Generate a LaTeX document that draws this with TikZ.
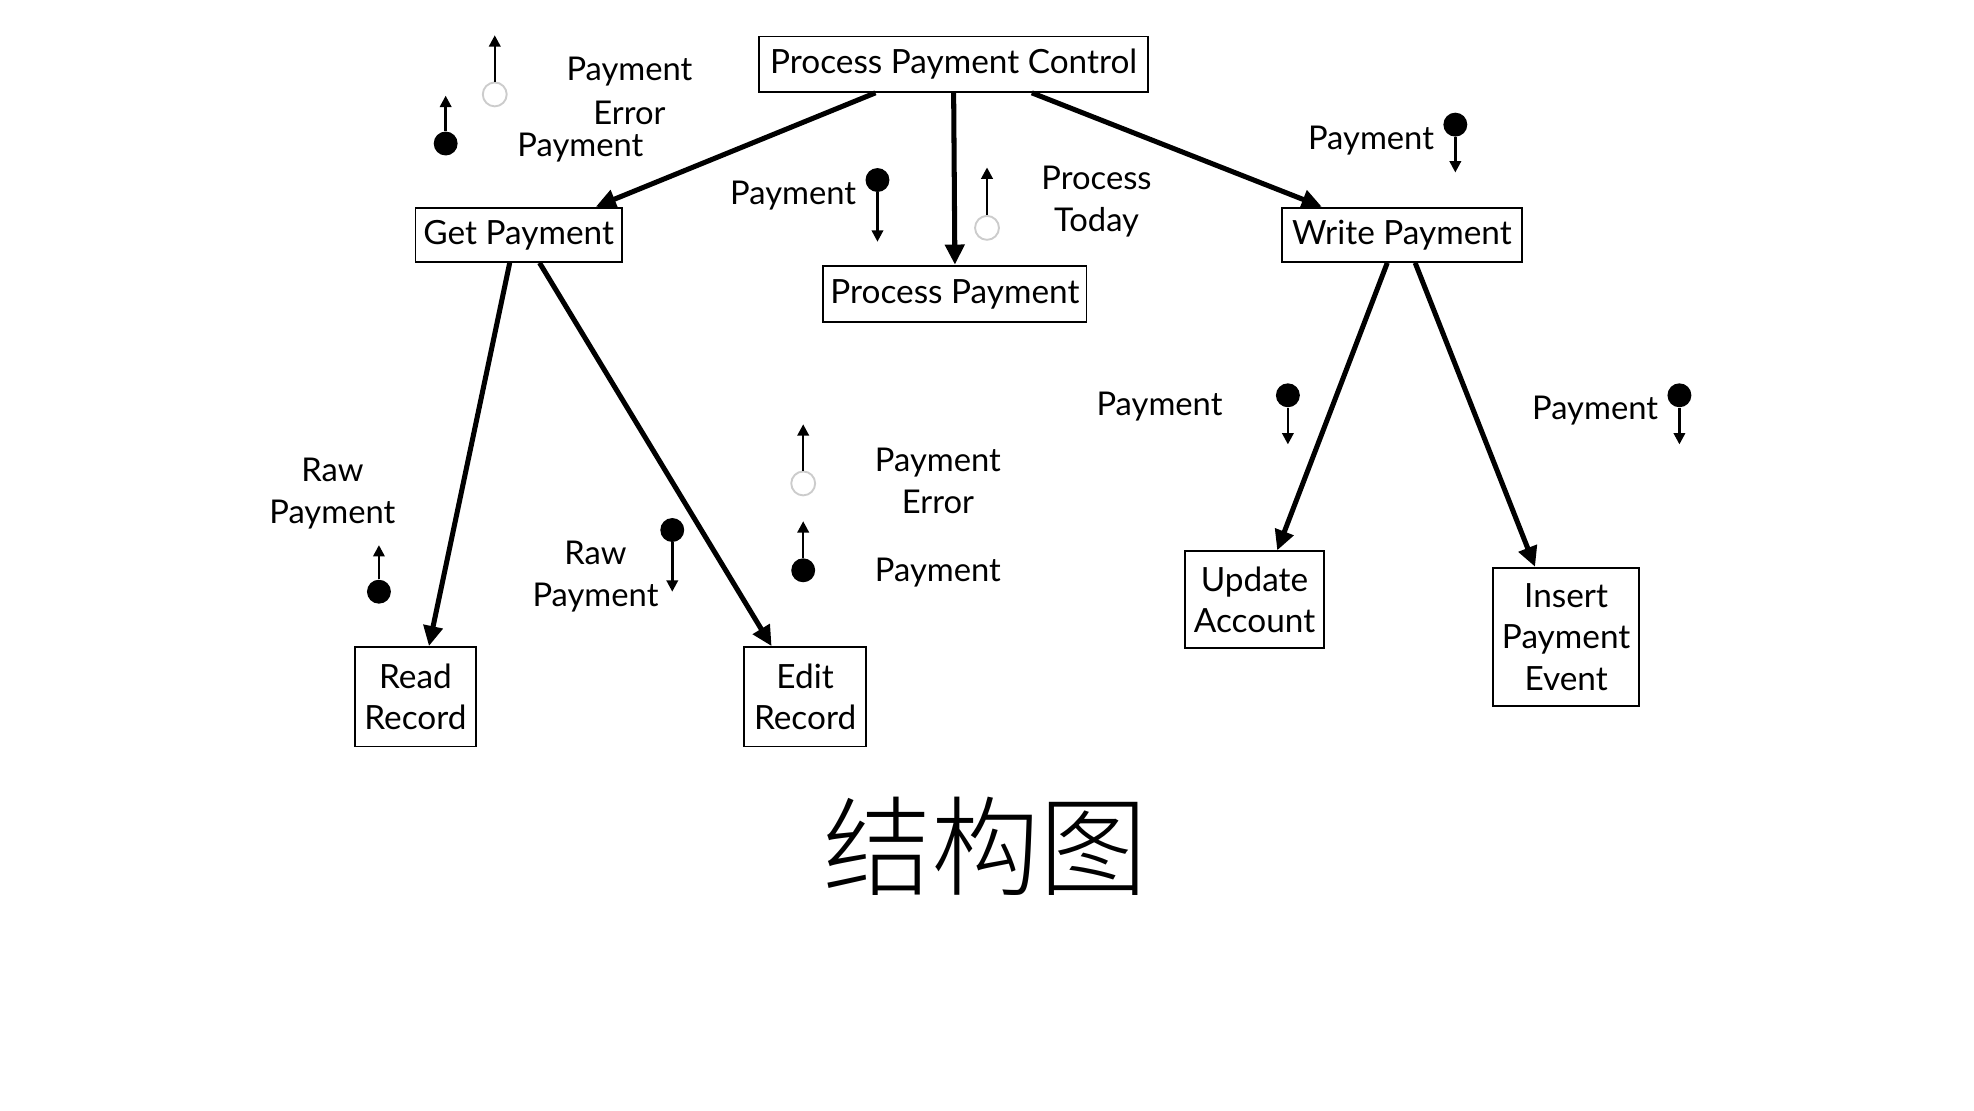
\documentclass[tikz,border=0pt]{standalone}
\usepackage{fontspec}
\setmainfont{Lato}
\newfontfamily\cjk{Noto Sans CJK SC}[UprightFont={* Light}]
\usetikzlibrary{arrows.meta,calc}
\begin{document}
\begin{tikzpicture}[x=1pt,y=-1pt,
  box/.style={draw,line width=1.5pt,inner sep=0pt,align=center,font=\fontsize{26.5}{33}\selectfont},
  lbl/.style={inner sep=0pt,align=center,yshift=-2pt,font=\fontsize{26}{33}\selectfont},
  flow/.style={line width=4pt,-{Triangle[length=16pt,width=15pt]}},
  couple/.style={line width=2pt,-{Triangle[length=9pt,width=9pt]}},
  dotc/.style={circle,fill=black,minimum size=19pt,inner sep=0pt},
  ctlc/.style={circle,draw=black!20,line width=1.5pt,fill=white,minimum size=19pt,inner sep=0pt}]
\useasboundingbox (0,0) rectangle (1568,882);
% modules
\node[box,minimum width=309pt,minimum height=44pt] (ppc) at (757.5,51) {Process Payment Control};
\node[box,minimum width=164pt,minimum height=43pt] (gp) at (412,186.5) {Get Payment};
\node[box,minimum width=209pt,minimum height=45pt] (pp) at (758.5,233.5) {Process Payment};
\node[box,minimum width=191pt,minimum height=43pt] (wp) at (1113.5,186.5) {Write Payment};
\node[box,minimum width=96pt,minimum height=79pt] (rr) at (330,553.5) {Read\\Record};
\node[box,minimum width=97pt,minimum height=79pt] (er) at (639.5,553.5) {Edit\\Record};
\node[box,minimum width=111pt,minimum height=77pt] (ua) at (996.5,476.5) {Update\\Account};
\node[box,minimum width=116pt,minimum height=110pt] (ipe) at (1244,506) {Insert\\Payment\\Event};
% calls
\draw[flow] ($(ppc.south west)!0.30!(ppc.south east)$) -- ($(gp.north west)!0.87!(gp.north east)$);
\draw[flow] (ppc.south) -- (pp.north);
\draw[flow] ($(ppc.south west)!0.70!(ppc.south east)$) -- ($(wp.north west)!0.17!(wp.north east)$);
\draw[flow] ($(gp.south west)!0.457!(gp.south east)$) -- ($(rr.north west)!0.61!(rr.north east)$);
\draw[flow] ($(gp.south west)!0.60!(gp.south east)$) -- ($(er.north west)!0.23!(er.north east)$);
\draw[flow] ($(wp.south west)!0.44!(wp.south east)$) -- ($(ua.north west)!0.66!(ua.north east)$);
\draw[flow] ($(wp.south west)!0.555!(wp.south east)$) -- ($(ipe.north west)!0.29!(ipe.north east)$);
% labels
\node[lbl] (l1a) at (500,55) {Payment};
\node[lbl] (l1b) at (500,88) {Error};
\node[lbl] (l1c) at (461,115) {Payment};
\node[lbl] (l2) at (630,153) {Payment};
\node[lbl] (l3) at (871,158) {Process\\Today};
\node[lbl] (l4) at (1089,110) {Payment};
\node[lbl] (l5) at (264,390) {Raw\\Payment};
\node[lbl] (l6) at (473,456) {Raw\\Payment};
\node[lbl] (l7) at (745,380) {Payment\\Error};
\node[lbl] (l8) at (745,453) {Payment};
\node[lbl] (l9) at (921,321) {Payment};
\node[lbl] (l10) at (1267,324) {Payment};
% couples
\node[ctlc] (c1) at (393,75) {}; \coordinate (e1) at (393,28);
\node[dotc] (c2) at (354,114) {}; \coordinate (e2) at (354,76);
\node[dotc] (c3) at (697,143) {}; \coordinate (e3) at (697,192);
\node[ctlc] (c4) at (784,181) {}; \coordinate (e4) at (784,133);
\node[dotc] (c5) at (1156,99) {}; \coordinate (e5) at (1156,137);
\node[dotc] (c6) at (301,470) {}; \coordinate (e6) at (301,433);
\node[dotc] (c7) at (534,421) {}; \coordinate (e7) at (534,470);
\node[ctlc] (c8) at (638,384) {}; \coordinate (e8) at (638,337);
\node[dotc] (c9) at (638,453) {}; \coordinate (e9) at (638,414);
\node[dotc] (c10) at (1023,314) {}; \coordinate (e10) at (1023,353);
\node[dotc] (c11) at (1334,314) {}; \coordinate (e11) at (1334,353);
\draw[couple] (c1.north) -- (e1);
\draw[couple] (c2.north) -- (e2);
\draw[couple] (c3.south) -- (e3);
\draw[couple] (c4.north) -- (e4);
\draw[couple] (c5.south) -- (e5);
\draw[couple] (c6.north) -- (e6);
\draw[couple] (c7.south) -- (e7);
\draw[couple] (c8.north) -- (e8);
\draw[couple] (c9.north) -- (e9);
\draw[couple] (c10.south) -- (e10);
\draw[couple] (c11.south) -- (e11);
% title
\node[inner sep=0pt,font=\cjk\fontsize{86}{86}\selectfont] (title) at (783,672) {结构图};
\end{tikzpicture}
\end{document}
